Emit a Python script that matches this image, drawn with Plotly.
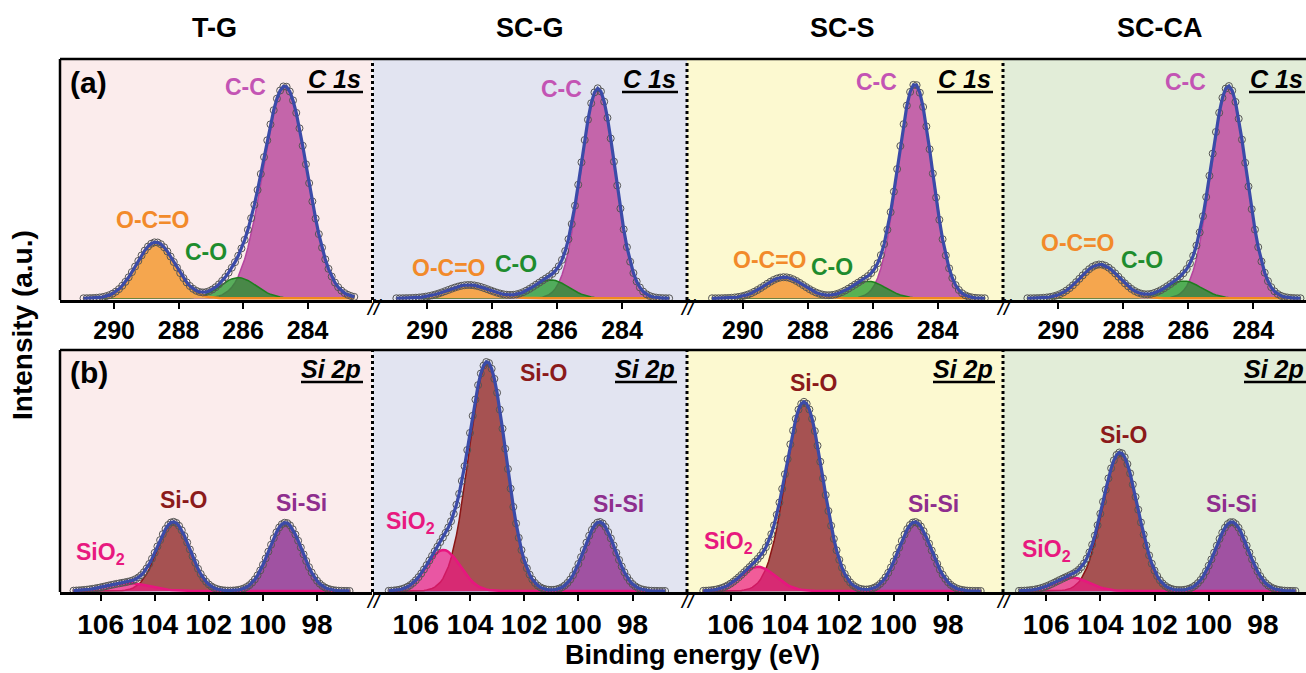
import numpy as np
import plotly.graph_objects as go

W, H = 1306, 673

samples = ["T-G", "SC-G", "SC-S", "SC-CA"]

# ---- C 1s fitted components: centre (eV), height (norm.), sigma (eV)
cc_center = [284.70, 284.74, 284.70, 284.76]
cc_height = [1.00, 0.99, 1.01, 1.00]
cc_sigma = [0.68, 0.53, 0.53, 0.54]
co_center = [286.15, 286.20, 286.15, 286.15]
co_height = [0.098, 0.087, 0.081, 0.082]
co_sigma = [0.55, 0.55, 0.55, 0.55]
oco_center = [288.71, 288.72, 288.73, 288.72]
oco_height = [0.265, 0.063, 0.10, 0.16]
oco_sigma = [0.60, 0.65, 0.60, 0.60]

# ---- Si 2p fitted components
sio_center = [103.30, 103.36, 103.29, 103.27]
sio_height = [0.30, 1.00, 0.827, 0.607]
sio_sigma = [0.60, 0.68, 0.68, 0.65]
sisi_center = [99.17, 99.22, 99.22, 99.15]
sisi_height = [0.30, 0.303, 0.303, 0.303]
sisi_sigma = [0.60, 0.57, 0.60, 0.60]
sio2_center = [105.00, 104.98, 104.99, 105.05]
sio2_height = [0.035, 0.18, 0.106, 0.059]
sio2_sigma = [0.80, 0.62, 0.65, 0.65]

# measured energy windows (start, stop, step)
c_window = (290.95, 282.50, 0.1)
si_window = (107.00, 96.80, 0.1)

c_ticks = [290, 288, 286, 284]
si_ticks = [106, 104, 102, 100, 98]

# ---------------------------------------------------------------- layout geometry
FONT = "Liberation Sans"
xdom_px = [(60, 372), (373, 687), (687, 1003), (1003, 1306)]
row_px = [(59, 300), (350, 592)]
c_ranges = [[291.68, 282.0], [291.67, 282.0], [291.72, 281.99], [291.70, 282.38]]
si_ranges = [[107.50, 95.97], [107.58, 95.99], [107.60, 95.98], [107.59, 96.41]]
c_yrange = [-0.008, 1.131]
si_yrange = [-0.0044, 1.058]

bg = ["#FBECEC", "#E2E4F1", "#FCF9D0", "#E2EDD8"]


def gauss(x, c, h, s):
    return h * np.exp(-((x - c) ** 2) / (2 * s * s))


def grid(win):
    a, b, st = win
    n = int(round((a - b) / st)) + 1
    return a - st * np.arange(n)


fig = go.Figure()
layout = {}
shapes = []
annotations = []


def px2x(px):
    return px / W


def px2y(py):
    return 1 - py / H


def suffix(i):
    return "" if i == 1 else str(i)


def note(text, x, y, size, color="black", xanchor="center", yanchor="middle", **kw):
    d = dict(text=text, xref="paper", yref="paper", x=px2x(x), y=px2y(y), showarrow=False,
             xanchor=xanchor, yanchor=yanchor, font=dict(family=FONT, size=size, color=color))
    d.update(kw)
    annotations.append(d)


for r in range(2):
    for c in range(4):
        i = r * 4 + c + 1
        xa, ya = "x" + suffix(i), "y" + suffix(i)
        x0, x1 = xdom_px[c]
        yt, yb = row_px[r]
        if r == 0:
            e = grid(c_window)
            comps = [
                (gauss(e, cc_center[c], cc_height[c], cc_sigma[c]), "rgb(196,101,170)", "#B5449E", 1.5),
                (gauss(e, co_center[c], co_height[c], co_sigma[c]), "rgba(25,150,35,0.72)", "#1E7E1E", 1.5),
                (gauss(e, oco_center[c], oco_height[c], oco_sigma[c]), "rgb(245,166,78)", "#F28A1E", 2.5),
            ]
            xr, yr, tv, tfs = c_ranges[c], c_yrange, c_ticks, 25
        else:
            e = grid(si_window)
            comps = [
                (gauss(e, sisi_center[c], sisi_height[c], sisi_sigma[c]), "rgb(160,82,162)", "#7F2A80", 1.5),
                (gauss(e, sio_center[c], sio_height[c], sio_sigma[c]), "rgb(166,82,82)", "#8B1515", 1.5),
                (gauss(e, sio2_center[c], sio2_height[c], sio2_sigma[c]), "rgba(236,25,130,0.70)", "#E8157F", 2.5),
            ]
            xr, yr, tv, tfs = si_ranges[c], si_yrange, si_ticks, 28
        env = sum(cp[0] for cp in comps)
        for yv, fc, lc, lw in comps:
            fig.add_trace(go.Scatter(x=e, y=yv, mode="lines", fill="tozeroy", fillcolor=fc,
                                     line=dict(color=lc, width=lw), xaxis=xa, yaxis=ya,
                                     showlegend=False, hoverinfo="skip"))
        fig.add_trace(go.Scatter(x=e, y=env, mode="markers",
                                 marker=dict(symbol="circle-open", size=7, color="#555555",
                                             line=dict(width=1)),
                                 xaxis=xa, yaxis=ya, showlegend=False))
        fig.add_trace(go.Scatter(x=e, y=env, mode="lines", line=dict(color="#3B4BA8", width=3.2),
                                 xaxis=xa, yaxis=ya, showlegend=False))
        layout["xaxis" + suffix(i)] = dict(
            domain=[px2x(x0), px2x(x1)], range=xr, anchor=ya, tickvals=tv,
            ticktext=[str(t) for t in tv], ticks="outside", ticklen=6, tickwidth=2,
            tickcolor="black", showline=True, linecolor="black", linewidth=2.5,
            showgrid=False, zeroline=False,
            tickfont=dict(family=FONT, size=tfs, color="black", weight="bold"))
        layout["yaxis" + suffix(i)] = dict(
            domain=[px2y(yb), px2y(yt)], range=yr, anchor=xa, visible=False,
            showgrid=False, zeroline=False)
        shapes.append(dict(type="rect", xref=xa + " domain", yref=ya + " domain",
                           x0=0, x1=1, y0=0, y1=1, fillcolor=bg[c], line=dict(width=0),
                           layer="below"))

# frame lines
for (yt, yb) in row_px:
    shapes.append(dict(type="line", xref="paper", yref="paper", x0=px2x(60), x1=1,
                       y0=px2y(yt), y1=px2y(yt), line=dict(color="black", width=2.5)))
    shapes.append(dict(type="line", xref="paper", yref="paper", x0=px2x(60), x1=px2x(60),
                       y0=px2y(yb), y1=px2y(yt), line=dict(color="black", width=2.5)))
    for xs in [372.5, 687, 1003]:
        shapes.append(dict(type="line", xref="paper", yref="paper", x0=px2x(xs), x1=px2x(xs),
                           y0=px2y(yb), y1=px2y(yt), line=dict(color="black", width=3, dash="dot")))
        note("<i>//</i>", xs + 1, yb + 8, 22)

# column titles
for name, cx in zip(samples, [214, 530, 842, 1160]):
    note("<b>%s</b>" % name, cx, 28, 27)

# panel letters
note("<b>(a)</b>", 89, 82, 30)
note("<b>(b)</b>", 89, 372, 30)

# core-level tags with underline
c1s_right = [363, 678, 993, 1305]
si2p_right = [363, 677, 995, 1306]
for rgt in c1s_right:
    note("<b><i>C 1s</i></b>", rgt, 79, 25, xanchor="right")
    shapes.append(dict(type="line", xref="paper", yref="paper", x0=px2x(rgt - 56), x1=px2x(rgt),
                       y0=px2y(92), y1=px2y(92), line=dict(color="black", width=2.5)))
for rgt in si2p_right:
    note("<b><i>Si 2p</i></b>", rgt, 369, 25, xanchor="right")
    shapes.append(dict(type="line", xref="paper", yref="paper", x0=px2x(rgt - 62), x1=px2x(rgt),
                       y0=px2y(382), y1=px2y(382), line=dict(color="black", width=2.5)))

# peak labels (data coordinates)
cc_lab = [(285.92, 1.00), (285.86, 0.99), (285.88, 1.02), (286.10, 1.02)]
oco_lab = [(288.81, 0.37), (289.33, 0.143), (289.18, 0.18), (289.42, 0.26)]
co_lab = [(287.16, 0.22), (287.28, 0.163), (287.27, 0.15), (287.43, 0.18)]
sio_lab = [(102.93, 0.40), (101.29, 0.956), (102.96, 0.915), (103.15, 0.685)]
sisi_lab = [(98.56, 0.387), (98.52, 0.38), (98.55, 0.383), (99.15, 0.383)]
sio2_lab = [(106.00, 0.164), (106.21, 0.30), (106.09, 0.215), (105.97, 0.179)]


def lab(text, pos, i, color):
    annotations.append(dict(text="<b>%s</b>" % text, xref="x" + suffix(i), yref="y" + suffix(i),
                            x=pos[0], y=pos[1], showarrow=False, xanchor="center", yanchor="middle",
                            font=dict(family=FONT, size=23, color=color)))


for c in range(4):
    lab("C-C", cc_lab[c], c + 1, "#C354B4")
    lab("O-C=O", oco_lab[c], c + 1, "#F28A2A")
    lab("C-O", co_lab[c], c + 1, "#1E8C2E")
    lab("Si-O", sio_lab[c], c + 5, "#8B1A1A")
    lab("Si-Si", sisi_lab[c], c + 5, "#8E2E8E")
    lab("SiO<sub>2</sub>", sio2_lab[c], c + 5, "#E8197F")

# axis titles
note("<b>Intensity (a.u.)</b>", 22, 325, 28, textangle=-90)
note("<b>Binding energy (eV)</b>", 692, 655, 27)

fig.update_layout(width=W, height=H, margin=dict(l=0, r=0, t=0, b=0),
                  paper_bgcolor="white", plot_bgcolor="rgba(0,0,0,0)",
                  shapes=shapes, annotations=annotations, showlegend=False, **layout)

fig.write_html("out.html", config={"displayModeBar": False},
               post_script="document.body.style.margin='0px';"
                           "document.documentElement.style.overflow='hidden';")
